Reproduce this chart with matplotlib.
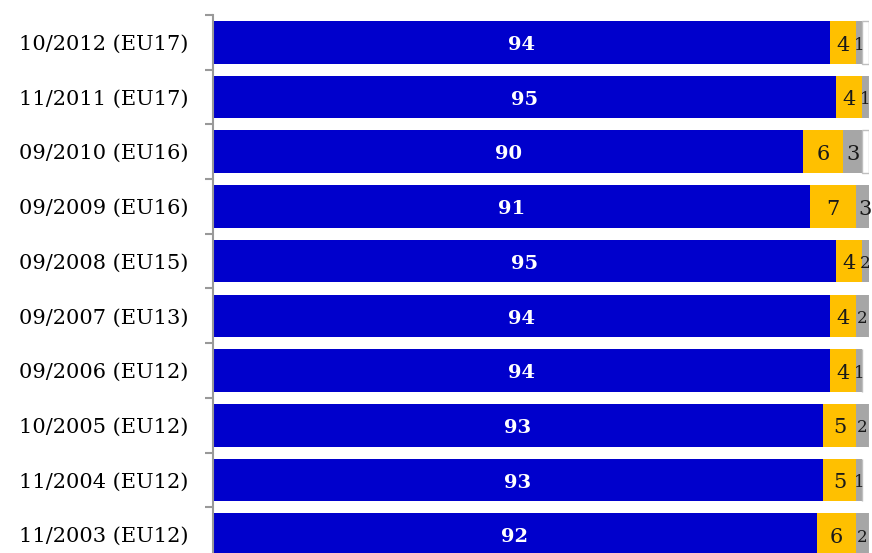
import matplotlib
matplotlib.use("Agg")
import matplotlib.pyplot as plt
import numpy as np

periods = ["10/2012 (EU17)", "11/2011 (EU17)", "09/2010 (EU16)", "09/2009 (EU16)",
           "09/2008 (EU15)", "09/2007 (EU13)", "09/2006 (EU12)", "10/2005 (EU12)",
           "11/2004 (EU12)", "11/2003 (EU12)"]
blue_vals = [94, 95, 90, 91, 95, 94, 94, 93, 93, 92]
yellow_vals = [4, 4, 6, 7, 4, 4, 4, 5, 5, 6]
gray_vals = [1, 1, 3, 3, 2, 2, 1, 2, 1, 2]
white_vals = [1, 0, 1, 0, 0, 0, 0, 0, 0, 0]

plt.rcParams["font.family"] = ["DejaVu Serif"]

fig = plt.figure(figsize=(8.72, 5.53), dpi=100)
ax = fig.add_axes([213 / 872, -9 / 553, 656 / 872, 547 / 553])

y = np.arange(len(periods))
h = 0.78
left = np.zeros(len(periods))
series = [(blue_vals, "#0000CC", "none"), (yellow_vals, "#FFC000", "none"),
          (gray_vals, "#A6A6A6", "none"), (white_vals, "white", "#BFBFBF")]
for vals, col, edge in series:
    vals = np.array(vals, dtype=float)
    ax.barh(y, vals, left=left, height=h, color=col, edgecolor=edge, linewidth=1)
    for yi, (l, v) in enumerate(zip(left, vals)):
        if v == 0 or col == "white":
            continue
        if col == "#0000CC":
            ax.text(l + v / 2, yi + 0.05, str(int(v)), color="white", ha="center",
                    va="center", fontsize=14, fontweight="semibold")
        elif col == "#FFC000":
            ax.text(l + v / 2, yi + 0.05, str(int(v)), color="#1a1a1a", ha="center",
                    va="center", fontsize=15)
        else:
            ax.text(min(l + v / 2, 99.4), yi + 0.05, str(int(v)), color="#1a1a1a",
                    ha="center", va="center", fontsize=15 if v >= 3 else 12,
                    clip_on=False)
    left = left + vals

ax.set_xlim(0, 100)
ax.set_ylim(len(periods) - 0.5, -0.5)
ax.set_yticks(y)
ax.set_yticklabels(periods, fontsize=15)
ax.set_yticks(np.arange(-0.5, len(periods) - 0.5), minor=True)
ax.tick_params(axis="y", which="major", length=0, pad=18)
ax.tick_params(axis="y", which="minor", length=6, color="#999999", width=1.5)
ax.set_xticks([])
for s in ["top", "right", "bottom"]:
    ax.spines[s].set_visible(False)
ax.spines["left"].set_color("#999999")
ax.spines["left"].set_linewidth(1.5)

fig.savefig("out.png", dpi=100)
